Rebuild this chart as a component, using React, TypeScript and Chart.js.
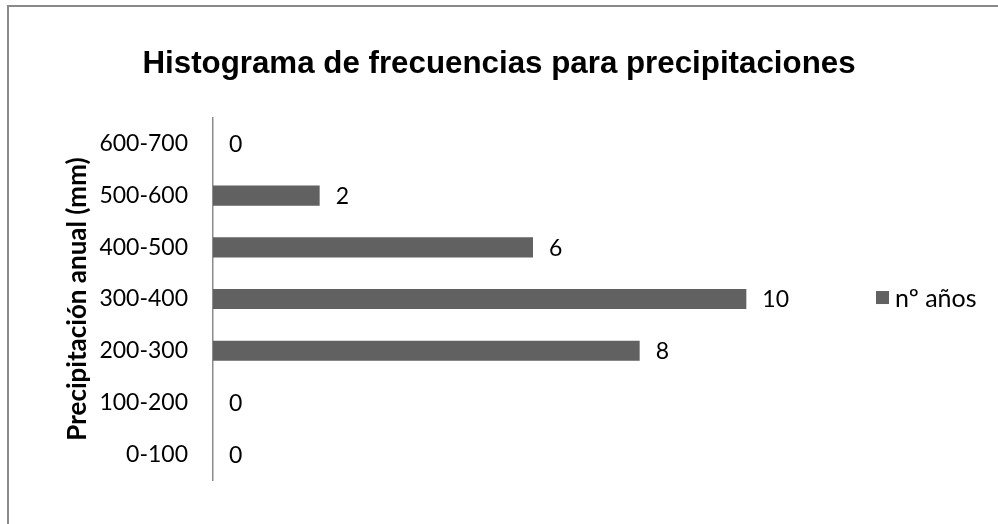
import React, { useEffect, useRef } from "react";
import { Chart, registerables } from "chart.js";

Chart.register(...registerables);

const categories = ["0-100", "100-200", "200-300", "300-400", "400-500", "500-600", "600-700"];
const seriesLabel = "nº años";
const values = [0, 0, 8, 10, 6, 2, 0];
const xMax = 12;
const chartTitle = "Histograma de frecuencias para precipitaciones";
const yAxisTitle = "Precipitación anual (mm)";

const BAR_COLOR = "#616161";
const TEXT_FONT = "Lato, 'Open Sans', sans-serif";

const dataLabelsPlugin = {
  id: "dataLabels",
  afterDatasetsDraw(chart: any) {
    const ctx = chart.ctx;
    ctx.save();
    ctx.font = `23px ${TEXT_FONT}`;
    ctx.fillStyle = "#000000";
    ctx.textAlign = "left";
    ctx.textBaseline = "middle";
    chart.data.datasets.forEach((ds: any, di: number) => {
      const meta = chart.getDatasetMeta(di);
      meta.data.forEach((bar: any, i: number) => {
        ctx.fillText(String(ds.data[i]), bar.x + 16, bar.y + 1);
      });
    });
    ctx.restore();
  },
};

const customLegendPlugin = {
  id: "customLegend",
  afterDraw(chart: any) {
    const ctx = chart.ctx;
    const area = chart.chartArea;
    const cy = (area.top + area.bottom) / 2;
    const x = area.right + 23;
    ctx.save();
    chart.data.datasets.forEach((ds: any) => {
      ctx.fillStyle = ds.backgroundColor;
      ctx.fillRect(x, cy - 8, 13, 13);
      ctx.font = `25px ${TEXT_FONT}`;
      ctx.fillStyle = "#000000";
      ctx.textAlign = "left";
      ctx.textBaseline = "middle";
      ctx.fillText(ds.label, x + 19, cy);
    });
    ctx.restore();
  },
};

function ChartView() {
  const canvasRef = useRef<HTMLCanvasElement | null>(null);

  useEffect(() => {
    if (!canvasRef.current) return;
    const chart = new Chart(canvasRef.current, {
      type: "bar",
      data: {
        labels: categories,
        datasets: [
          {
            label: seriesLabel,
            data: values,
            backgroundColor: BAR_COLOR,
            borderWidth: 0,
            categoryPercentage: 1,
            barPercentage: 0.39,
            yAxisID: "y",
          },
        ],
      },
      plugins: [dataLabelsPlugin, customLegendPlugin],
      options: {
        indexAxis: "y",
        responsive: false,
        animation: false,
        maintainAspectRatio: false,
        layout: {
          padding: { top: 36, bottom: 44, left: 0, right: 0 },
        },
        plugins: {
          legend: { display: false },
          tooltip: { enabled: false },
          title: {
            display: true,
            text: chartTitle,
            color: "#000000",
            font: { family: "'Liberation Sans', Arial, sans-serif", size: 31.3, weight: "bold" },
            padding: { top: 9.5, bottom: 35 },
          },
        },
        scales: {
          x: {
            display: false,
            min: 0,
            max: xMax,
          },
          y: {
            reverse: true,
            afterFit(scale: any) {
              scale.width = 213;
            },
            grid: { display: false, drawTicks: false },
            border: { display: true, color: "#8c8c8c", width: 1.5 },
            ticks: {
              color: "#000000",
              font: { family: TEXT_FONT, size: 23 },
              padding: 25,
            },
            title: {
              display: true,
              text: yAxisTitle,
              color: "#000000",
              font: { family: TEXT_FONT, size: 26, weight: "bold" },
              padding: { top: 62, bottom: 0 },
            },
          },
          yRight: {
            type: "category",
            position: "right",
            labels: categories,
            afterFit(scale: any) {
              scale.width = 145;
            },
            grid: { display: false, drawTicks: false },
            border: { display: false },
            ticks: { display: false },
          },
        },
      },
    });
    return () => chart.destroy();
  }, []);

  return <canvas ref={canvasRef} width={998} height={524} style={{ display: "block" }} />;
}

export default function App() {
  return (
    <div style={{ position: "fixed", left: 0, top: 0, width: 998, height: 524, background: "#ffffff", overflow: "hidden" }}>
      <div
        style={{
          position: "absolute",
          left: 7,
          top: 5,
          width: 1100,
          height: 700,
          borderLeft: "2px solid #8a8a8a",
          borderTop: "2px solid #8a8a8a",
          boxSizing: "border-box",
          pointerEvents: "none",
        }}
      />
      <div style={{ position: "absolute", left: 0, top: 0 }}>
        <ChartView />
      </div>
    </div>
  );
}
